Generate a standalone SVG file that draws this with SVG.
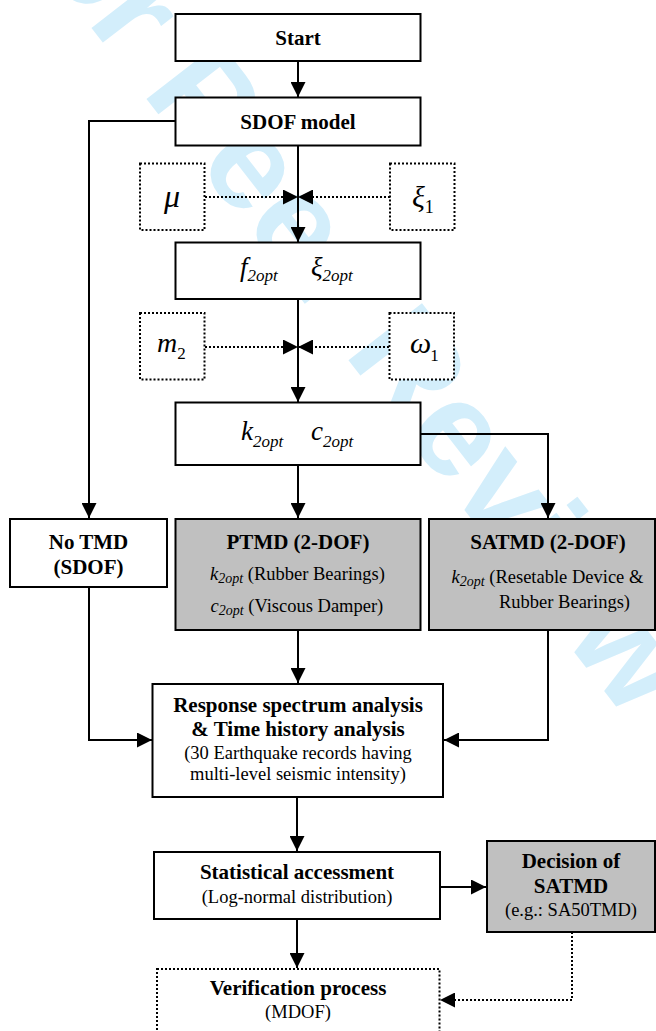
<svg xmlns="http://www.w3.org/2000/svg" width="656" height="1031" viewBox="0 0 656 1031">
<defs>
<marker id="ah" markerUnits="userSpaceOnUse" markerWidth="16" markerHeight="15" refX="15" refY="7.5" orient="auto">
<path d="M0,0 L15,7.5 L0,15 z" fill="#000"/>
</marker>
<style>
.box{fill:#fff;stroke:#000;stroke-width:2}
.gbox{fill:#c0c0c0;stroke:#000;stroke-width:2}
.dbox{fill:#fff;stroke:#000;stroke-width:2;stroke-dasharray:2 2}
.ln{fill:none;stroke:#000;stroke-width:2}
.dl{fill:none;stroke:#000;stroke-width:2;stroke-dasharray:2 2}
.b{font-family:"Liberation Serif","Times New Roman",serif;font-weight:bold;font-size:21px;fill:#000;text-anchor:middle}
.r{font-family:"Liberation Serif","Times New Roman",serif;font-size:18.5px;fill:#000;text-anchor:middle}
.rs{font-family:"Liberation Serif","Times New Roman",serif;font-size:18.5px;fill:#000;text-anchor:start}
.m{font-family:"Liberation Serif","Times New Roman",serif;font-style:italic;fill:#000}
.wm{font-family:"Liberation Sans",Arial,sans-serif;font-weight:bold;font-size:135px;fill:#d3eefb}
</style>
</defs>
<rect width="656" height="1031" fill="#fff"/>
<text class="wm" transform="translate(-15,-110) rotate(52.3)">For Peer Review</text>

<g id="connectors">
<line class="ln" x1="298" y1="61" x2="298" y2="97" marker-end="url(#ah)"/>
<polyline class="ln" points="175.5,121 89,121 89,518" marker-end="url(#ah)"/>
<line class="ln" x1="298" y1="145" x2="298" y2="242" marker-end="url(#ah)"/>
<line class="dl" x1="205" y1="197" x2="298" y2="197" marker-end="url(#ah)"/>
<line class="dl" x1="390" y1="197" x2="298" y2="197" marker-end="url(#ah)"/>
<line class="ln" x1="298" y1="299" x2="298" y2="402" marker-end="url(#ah)"/>
<line class="dl" x1="205" y1="347" x2="298" y2="347" marker-end="url(#ah)"/>
<line class="dl" x1="389" y1="347" x2="298" y2="347" marker-end="url(#ah)"/>
<line class="ln" x1="298" y1="465" x2="298" y2="518" marker-end="url(#ah)"/>
<polyline class="ln" points="420.5,434 548,434 548,518" marker-end="url(#ah)"/>
<polyline class="ln" points="89,587 89,740 152,740" marker-end="url(#ah)"/>
<line class="ln" x1="298" y1="630" x2="298" y2="683" marker-end="url(#ah)"/>
<polyline class="ln" points="548,630 548,740 444,740" marker-end="url(#ah)"/>
<line class="ln" x1="297" y1="797" x2="297" y2="851" marker-end="url(#ah)"/>
<line class="ln" x1="440" y1="887" x2="486" y2="887" marker-end="url(#ah)"/>
<line class="ln" x1="297" y1="919" x2="297" y2="968" marker-end="url(#ah)"/>
<polyline class="dl" points="572,932 572,1000 440,1000" marker-end="url(#ah)"/>
</g>

<g id="start">
<rect class="box" x="175.5" y="14" width="245" height="47"/>
<text class="b" x="298" y="45">Start</text>
</g>
<g id="sdof">
<rect class="box" x="175.5" y="97.5" width="245" height="48"/>
<text class="b" x="298" y="129">SDOF model</text>
</g>
<g id="mu">
<rect class="dbox" x="140" y="163.5" width="64.5" height="66.5"/>
<text class="m" x="172" y="207" font-size="32" text-anchor="middle">μ</text>
</g>
<g id="xi1">
<rect class="dbox" x="390" y="163.5" width="64.5" height="66.5"/>
<text class="m" x="412" y="207" font-size="30">ξ<tspan font-style="normal" font-size="18" dy="6">1</tspan></text>
</g>
<g id="f2opt">
<rect class="box" x="175.5" y="242.5" width="245" height="56.5"/>
<text class="m" x="240" y="276" font-size="27">f<tspan font-size="17" dy="5">2opt</tspan></text>
<text class="m" x="311" y="276" font-size="27">ξ<tspan font-size="17" dy="5">2opt</tspan></text>
</g>
<g id="m2">
<rect class="dbox" x="140" y="313" width="64.5" height="66.5"/>
<text class="m" x="157" y="352" font-size="28">m<tspan font-style="normal" font-size="17" dy="7">2</tspan></text>
</g>
<g id="omega1">
<rect class="dbox" x="389.5" y="313" width="64.5" height="66.5"/>
<text class="m" x="410" y="353" font-size="30">ω<tspan font-style="normal" font-size="17" dx="-1" dy="8">1</tspan></text>
</g>
<g id="k2opt">
<rect class="box" x="175.5" y="402.5" width="245" height="62.5"/>
<text class="m" x="241" y="440" font-size="27">k<tspan font-size="17" dy="7">2opt</tspan></text>
<text class="m" x="311" y="440" font-size="27">c<tspan font-size="17" dy="7">2opt</tspan></text>
</g>
<g id="notmd">
<rect class="box" x="10" y="519" width="157" height="68"/>
<text class="b" x="88.5" y="549">No TMD</text>
<text class="b" x="88.5" y="574">(SDOF)</text>
</g>
<g id="ptmd">
<rect class="gbox" x="175.5" y="519" width="245" height="111"/>
<text class="b" x="298" y="549">PTMD (2-DOF)</text>
<text class="rs" x="210" y="580"><tspan font-style="italic">k</tspan><tspan font-style="italic" font-size="14" dy="3">2opt</tspan><tspan dy="-3"> (Rubber Bearings)</tspan></text>
<text class="rs" x="210.5" y="612"><tspan font-style="italic">c</tspan><tspan font-style="italic" font-size="14" dy="3">2opt</tspan><tspan dy="-3"> (Viscous Damper)</tspan></text>
</g>
<g id="satmd">
<rect class="gbox" x="429" y="519" width="226" height="111"/>
<text class="b" x="548" y="549">SATMD (2-DOF)</text>
<text class="rs" x="451.5" y="583"><tspan font-style="italic">k</tspan><tspan font-style="italic" font-size="14" dy="3">2opt</tspan><tspan dy="-3"> (Resetable Device &amp;</tspan></text>
<text class="rs" x="499" y="608">Rubber Bearings)</text>
</g>
<g id="response">
<rect class="box" x="152.5" y="684" width="290.5" height="113"/>
<text class="b" x="298" y="712">Response spectrum analysis</text>
<text class="b" x="298" y="736">&amp; Time history analysis</text>
<text class="r" x="298" y="759">(30 Earthquake records having</text>
<text class="r" x="298" y="780">multi-level seismic intensity)</text>
</g>
<g id="statistical">
<rect class="box" x="154" y="852" width="286" height="67"/>
<text class="b" x="297" y="879">Statistical accessment</text>
<text class="r" x="297" y="903">(Log-normal distribution)</text>
</g>
<g id="decision">
<rect class="gbox" x="487" y="841" width="168" height="91"/>
<text class="b" x="571" y="868">Decision of</text>
<text class="b" x="571" y="893">SATMD</text>
<text class="r" x="571" y="916">(e.g.: SA50TMD)</text>
</g>
<g id="verification">
<rect class="dbox" x="157" y="969" width="282.5" height="80"/>
<text class="b" x="298" y="995">Verification process</text>
<text class="r" x="298" y="1018">(MDOF)</text>
</g>
</svg>
